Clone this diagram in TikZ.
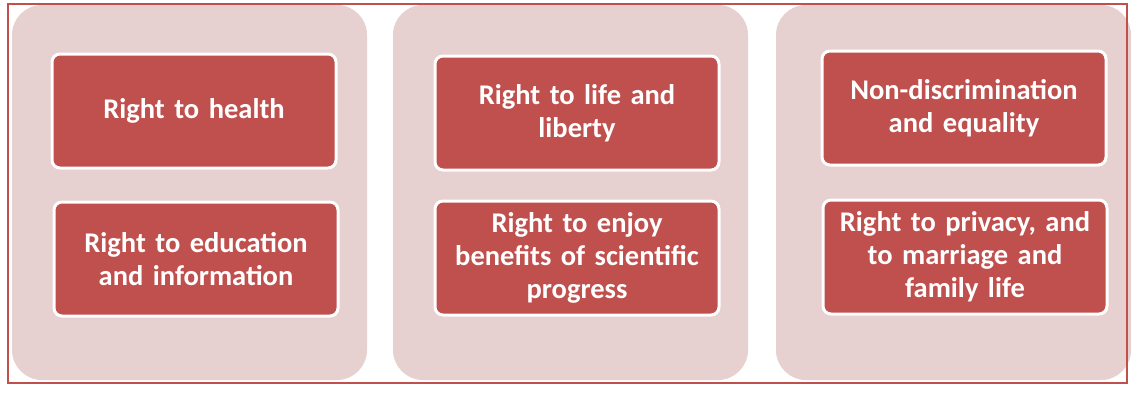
\documentclass[tikz,border=0pt]{standalone}
\usepackage{fontspec}
\setmainfont[WordSpace=0.7]{Carlito}

\definecolor{boxred}{RGB}{192,80,77}
\definecolor{panelpink}{RGB}{230,208,208}

\begin{document}
\begin{tikzpicture}[x=1pt,y=-1pt,
        panel/.style={fill=panelpink,rounded corners=30pt},
        rightbox/.style={draw=white,line width=3pt,fill=boxred,rounded corners=8pt,
            minimum width=284pt,minimum height=114pt,text width=275pt,align=center,
            text=white,font=\bfseries\fontsize{28.5}{33}\selectfont}]
        \useasboundingbox (0,0) rectangle (1131,392);

        % Background panels
        \fill[panel] (12,5) rectangle (367,380);
        \fill[panel] (393,5) rectangle (748,380);
        \fill[panel] (776,5) rectangle (1131,380);

        % Outer frame
        \draw[boxred,line width=2pt] (8,4) rectangle (1127,383);

        % Left column
        \node[rightbox] (health) at (194,111) {Right to health};
        \node[rightbox] (education) at (196,259) {Right to education\\and information};

        % Middle column
        \node[rightbox] (life) at (577,113) {Right to life and\\liberty};
        \node[rightbox] (science) at (577,258) {Right to enjoy\\benefits of scientific\\progress};

        % Right column
        \node[rightbox] (equality) at (964,108) {Non-discrimination\\and equality};
        \node[rightbox] (privacy) at (965,257) {Right to privacy, and\\to marriage and\\family life};
    \end{tikzpicture}
\end{document}
